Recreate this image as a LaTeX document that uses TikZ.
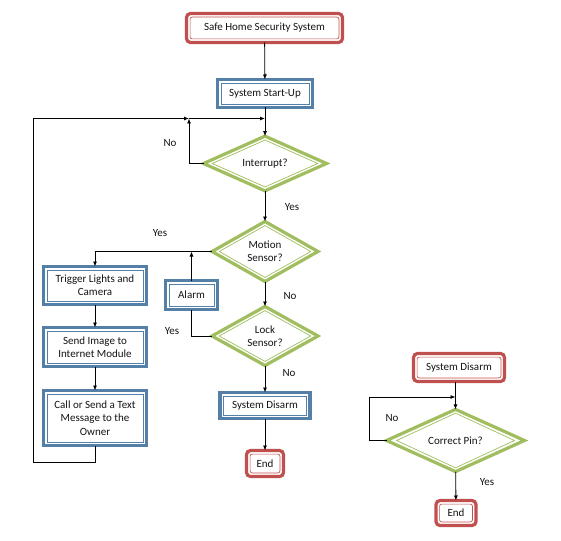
\documentclass[tikz,border=0pt]{standalone}
\usepackage{fontspec}
\setmainfont{Carlito}
\usetikzlibrary{shapes.geometric,arrows.meta}
\definecolor{redc}{RGB}{192,80,77}
\definecolor{bluec}{RGB}{84,128,168}
\definecolor{greenc}{RGB}{160,190,95}
\definecolor{txt}{RGB}{20,20,20}
\begin{document}
\begin{tikzpicture}[x=1pt,y=-1pt,
  every node/.style={font=\fontsize{11}{13.4}\selectfont, text=txt, outer sep=0pt, inner sep=1pt, align=center},
  bluebox/.style={draw=bluec, line width=3.2pt, rectangle, fill=white},
  redbox/.style={draw=redc, line width=3.2pt, rectangle, rounded corners=4pt, fill=white},
  decision/.style={draw=greenc, line width=3.2pt, diamond, inner sep=0pt, fill=white},
  arr/.style={-{Latex[length=5pt,width=4pt]}, line width=0.8pt},
  plain/.style={line width=0.8pt},
  lbl/.style={font=\fontsize{11}{13}\selectfont}
]
\useasboundingbox (0,0) rectangle (561,540);

% nodes
\node[redbox, minimum width=156pt, minimum height=29pt] (title) at (264.5,28) {Safe Home Security System};
\node[bluebox, minimum width=95pt, minimum height=28pt] (start) at (265,93.5) {System Start-Up};
\node[decision, minimum width=123pt, minimum height=54pt] (intr) at (265,163.5) {Interrupt?};
\node[decision, minimum width=106pt, minimum height=60pt] (motion) at (265,251.5) {Motion\\Sensor?};
\node[decision, minimum width=106pt, minimum height=59pt] (lock) at (265,336) {Lock\\Sensor?};
\node[bluebox, minimum width=90pt, minimum height=26pt] (disarmA) at (265,405.5) {System Disarm};
\node[redbox, minimum width=37pt, minimum height=26pt] (endA) at (265,463.5) {End};
\node[bluebox, minimum width=103pt, minimum height=38pt] (trig) at (95,285.5) {Trigger Lights and\\Camera};
\node[bluebox, minimum width=103pt, minimum height=39pt] (send) at (95,347) {Send Image to\\Internet Module};
\node[bluebox, minimum width=103pt, minimum height=55pt] (call) at (95,418) {Call or Send a Text\\Message to the\\Owner};
\node[bluebox, minimum width=52pt, minimum height=29pt] (alarm) at (191.5,295) {Alarm};
\node[redbox, minimum width=91pt, minimum height=28pt] (disarmB) at (459,367.5) {System Disarm};
\node[decision, minimum width=138pt, minimum height=52pt] (pin) at (455.5,440.5) {Correct Pin?};
\node[redbox, minimum width=40pt, minimum height=25pt] (endB) at (456,513) {End};

% inner thin borders
\foreach \n in {start, disarmA, trig, send, call, alarm}
  \draw[draw=bluec, line width=0.7pt] ([shift={(3.6pt,-3.6pt)}]\n.north west) rectangle ([shift={(-3.6pt,3.6pt)}]\n.south east);
\foreach \n in {title, endA, disarmB, endB}
  \draw[draw=redc, line width=0.7pt, rounded corners=2pt] ([shift={(3.6pt,-3.6pt)}]\n.north west) rectangle ([shift={(-3.6pt,3.6pt)}]\n.south east);
\foreach \n/\dy/\dx in {intr/3.9pt/8.8pt, motion/4.1pt/7.3pt, lock/4.1pt/7.3pt, pin/3.8pt/10.1pt}
  \draw[draw=greenc, line width=0.7pt] ([yshift=-\dy]\n.north) -- ([xshift=-\dx]\n.east) -- ([yshift=\dy]\n.south) -- ([xshift=\dx]\n.west) -- cycle;

% connectors
\coordinate (j1) at (189,118.5);
\coordinate (j0) at (265,118.5);
\coordinate (c1) at (33,462);
\coordinate (c2) at (369,397);

\draw[arr] (title) -- (start);
\draw[arr] (start) -- (intr);
\draw[arr] (call.south) |- (c1) |- (j1);
\draw[arr] (intr.west) -| (j1);
\draw[arr] (j1) -- (j0);
\draw[arr] (intr) -- (motion);
\draw[arr] (motion.west) -| (trig.north);
\draw[arr] (motion) -- (lock);
\draw[arr] (alarm.north) -- (alarm.north |- motion.west);
\draw[plain] (lock.west) -| (alarm.south);
\draw[arr] (lock) -- (disarmA);
\draw[arr] (disarmA) -- (endA);
\draw[arr] (trig) -- (send);
\draw[arr] (send) -- (call);

\draw[arr] (disarmB.south -| pin.north) -- (pin.north);
\draw[arr] (pin.west) -| (c2) -- (c2 -| pin.north);
\draw[arr] (pin) -- (endB);

% labels
\node[lbl] (l1) at (170,143) {No};
\node[lbl] (l2) at (292,207) {Yes};
\node[lbl] (l3) at (160,233) {Yes};
\node[lbl] (l4) at (290,296) {No};
\node[lbl] (l5) at (172,331) {Yes};
\node[lbl] (l6) at (289,373) {No};
\node[lbl] (l7) at (392,418) {No};
\node[lbl] (l8) at (487,482) {Yes};
\end{tikzpicture}
\end{document}
